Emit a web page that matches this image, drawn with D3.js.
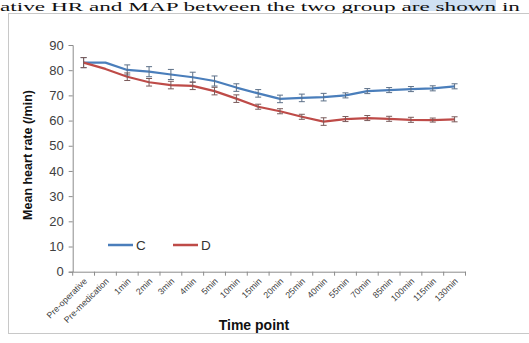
<!DOCTYPE html>
<html>
<head>
<meta charset="utf-8">
<script src="https://cdn.jsdelivr.net/npm/d3@7"></script>
<style>
  body { margin: 0; background: #fff; }
  svg { display: block; }
</style>
</head>
<body>
<div id="graph"></div>
<script>
// mean heart rate of both groups at each time point
const timePoints = ["Pre-operative", "Pre-medication", "1min", "2min", "3min", "4min", "5min",
    "10min", "15min", "20min", "25min", "40min", "55min", "70min", "85min", "100min", "115min", "130min"];
const groupC = [83, 83, 80.1, 79.4, 78.3, 77.2, 75.7, 73.1, 70.8, 68.6, 69, 69.3, 70, 71.7, 72.1, 72.5, 72.8, 73.6];
const groupD = [83, 80.5, 77.4, 75.2, 74.1, 73.8, 71.7, 68.7, 65.5, 63.7, 61.5, 59.6, 60.6, 61, 60.7, 60.3, 60.2, 60.5];
const errC = [2, 0, 2, 2, 2, 2, 2, 1.5, 1.5, 1.5, 1.5, 1.5, 1, 1, 1, 1, 1, 1];
const errD = [2, 0, 1.5, 1.5, 1.5, 1.5, 1.5, 1.5, 1, 1, 1, 1.5, 1, 1, 1, 1, 0.8, 1];
const yTicks = [0, 10, 20, 30, 40, 50, 60, 70, 80, 90];
const seriesNames = ["C", "D"];

const W = 529, H = 343;
const plotLeft = 72.7, plotRight = 465.5, plotTop = 45, plotBottom = 271.7;

const svg = d3.select("#graph")
    .append("svg")
        .attr("width", W)
        .attr("height", H)
        .style("font-family", "Arial, 'Liberation Sans', sans-serif");

// page text above the chart
svg.append("rect")
    .attr("x", 410).attr("y", 0).attr("width", 86).attr("height", 11)
    .attr("fill", "#cfe0f3");
svg.append("text")
    .attr("x", 0).attr("y", 10.5)
    .style("font-family", "'Liberation Serif', 'Times New Roman', serif")
    .style("font-size", "13px")
    .attr("fill", "#111")
    .attr("textLength", 520)
    .attr("lengthAdjust", "spacingAndGlyphs")
    .text("ative HR and MAP between the two group are shown in");

// chart frame
svg.append("rect")
    .attr("x", 8.5).attr("y", 13.5).attr("width", 530).attr("height", 320)
    .attr("fill", "none")
    .attr("stroke", "#c8c8c8")
    .attr("stroke-width", 1);

const x = d3.scaleBand()
    .domain(timePoints)
    .range([plotLeft, plotRight]);

const y = d3.scaleLinear()
    .domain([0, 90])
    .range([plotBottom, plotTop]);

const cx = d => x(d) + x.bandwidth() / 2;

// y axis
const yAxis = svg.append("g")
    .attr("transform", `translate(${plotLeft}, 0)`)
    .call(d3.axisLeft(y).tickValues(yTicks).tickSize(4).tickPadding(5));
yAxis.select(".domain").attr("stroke", "#8c8c8c");
yAxis.selectAll(".tick line").attr("stroke", "#8c8c8c");
yAxis.selectAll("text")
    .style("font-size", "13px")
    .attr("fill", "#404040");

// x axis, ticks between categories
const xAxis = svg.append("g")
    .attr("transform", `translate(0, ${plotBottom})`)
    .call(d3.axisBottom(x).tickSize(0).tickPadding(0));
xAxis.select(".domain").attr("stroke", "#8c8c8c");
xAxis.selectAll(".tick text").remove();
xAxis.selectAll(".sep")
    .data(timePoints.concat(["end"]))
    .join("line")
        .attr("class", "sep")
        .attr("x1", (d, i) => plotLeft + i * x.step())
        .attr("x2", (d, i) => plotLeft + i * x.step())
        .attr("y1", 0).attr("y2", 4)
        .attr("stroke", "#8c8c8c");

svg.append("g")
    .selectAll("text")
    .data(timePoints)
    .join("text")
        .attr("transform", d => `translate(${cx(d) + 4}, ${plotBottom + 10}) rotate(-45)`)
        .attr("text-anchor", "end")
        .style("font-size", "8.8px")
        .attr("fill", "#404040")
        .text(d => d);

// titles
svg.append("text")
    .attr("transform", `translate(32, 155) rotate(-90)`)
    .attr("text-anchor", "middle")
    .style("font-size", "12.5px")
    .style("font-weight", "bold")
    .attr("fill", "#111")
    .text("Mean heart rate (/min)");

svg.append("text")
    .attr("x", 254).attr("y", 330)
    .attr("text-anchor", "middle")
    .style("font-size", "14px")
    .style("font-weight", "bold")
    .attr("fill", "#111")
    .text("Time point");

const colors = ["#4a7ebb", "#be4b48"];
const series = [groupC, groupD];
const errs = [errC, errD];

const line = d3.line()
    .x((v, i) => cx(timePoints[i]))
    .y(v => y(v));

series.forEach((vals, s) => {
    svg.append("path")
        .datum(vals)
        .attr("fill", "none")
        .attr("stroke", colors[s])
        .attr("stroke-width", 2.2)
        .attr("stroke-linejoin", "round")
        .attr("d", line);

    const eb = svg.append("g")
        .attr("stroke", s === 0 ? "#5c7088" : "#7a5a5a")
        .attr("stroke-width", 1);
    vals.forEach((v, i) => {
        const e = errs[s][i];
        if (!e) return;
        const px = cx(timePoints[i]);
        eb.append("line")
            .attr("x1", px).attr("x2", px)
            .attr("y1", y(v - e)).attr("y2", y(v + e));
        eb.append("line")
            .attr("x1", px - 3).attr("x2", px + 3)
            .attr("y1", y(v - e)).attr("y2", y(v - e));
        eb.append("line")
            .attr("x1", px - 3).attr("x2", px + 3)
            .attr("y1", y(v + e)).attr("y2", y(v + e));
    });
});

// legend
const legendX = [108, 173];
seriesNames.forEach((name, s) => {
    svg.append("line")
        .attr("x1", legendX[s]).attr("x2", legendX[s] + 25)
        .attr("y1", 245).attr("y2", 245)
        .attr("stroke", colors[s])
        .attr("stroke-width", 2.5);
    svg.append("text")
        .attr("x", legendX[s] + 28).attr("y", 250)
        .style("font-size", "13.5px")
        .attr("fill", "#333")
        .text(name);
});
</script>
</body>
</html>
